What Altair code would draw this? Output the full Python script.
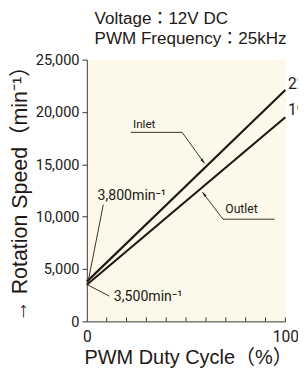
import altair as alt
import pandas as pd

# ---- data ----
duty = [0, 100]
inlet_speed = [3800, 22100]
outlet_speed = [3500, 19500]

y_tick_values = [0, 5000, 10000, 15000, 20000, 25000]
x_label_values = [0, 100]
x_minor_ticks = [10, 20, 30, 40, 50, 60, 70, 80, 90, 100]

# annotation leader lines (data coordinates)
inlet_leader_x = [22.1, 48.0, 59.3]
inlet_leader_y = [18055, 18055, 15090]
outlet_leader_x = [94.6, 68.6, 58.2]
outlet_leader_y = [9760, 9760, 12350]
start_in_leader_x = [8.3, 0.6]
start_in_leader_y = [11150, 3760]
start_out_leader_x = [0.6, 11.3]
start_out_leader_y = [3470, 2420]

FONT = "Liberation Sans, Noto Sans CJK JP, sans-serif"
COND = "Roboto, Liberation Sans, sans-serif"
INK = "#231815"
BG = "#FCF8EA"

lines_df = pd.DataFrame({
    "duty": duty * 2,
    "speed": inlet_speed + outlet_speed,
    "series": ["Inlet"] * 2 + ["Outlet"] * 2,
})

xs = alt.Scale(domain=[0, 100], nice=False, zero=False)
ys = alt.Scale(domain=[0, 25000], nice=False)

x_axis = alt.Axis(values=x_label_values, ticks=False, grid=False, labelFontSize=16,
                  labelFont=COND, labelColor=INK, labelPadding=8, domainColor="#333333",
                  labelFlush=False, format="d",
                  title="PWM Duty Cycle（%）", titleFont=FONT, titleFontSize=20.5,
                  titleFontWeight="normal", titleColor=INK, titleX=104, titleY=37,
                  titleAlign="center", titleBaseline="middle")
y_axis = alt.Axis(values=y_tick_values, format=",d", tickSize=5, tickColor="#333333",
                  domainColor="#333333", grid=False, labelFontSize=15, labelFont=COND,
                  labelColor=INK, labelPadding=3,
                  title="→   Rotation Speed（min⁻¹）", titleFont=FONT, titleFontSize=22,
                  titleFontWeight="normal", titleColor=INK, titleAngle=270,
                  titleX=-69, titleY=132, titleAlign="center", titleBaseline="middle")

base = alt.Chart(lines_df)
lines = base.mark_line(color=INK, strokeWidth=2.2).encode(
    x=alt.X("duty:Q", scale=xs, axis=x_axis),
    y=alt.Y("speed:Q", scale=ys, axis=y_axis),
    detail="series:N",
)

ticks_df = pd.DataFrame({"t": x_minor_ticks})
ticks = alt.Chart(ticks_df).mark_rule(color="#333333", strokeWidth=1).encode(
    x=alt.X("t:Q", scale=xs),
    y=alt.value(269), y2=alt.value(265),
)

def leader(xv, yv):
    df = pd.DataFrame({"x": xv, "y": yv, "o": list(range(len(xv)))})
    return alt.Chart(df).mark_line(color=INK, strokeWidth=0.9).encode(
        x=alt.X("x:Q", scale=xs), y=alt.Y("y:Q", scale=ys), order="o:Q")

leaders = [
    leader(inlet_leader_x, inlet_leader_y),
    leader(outlet_leader_x, outlet_leader_y),
    leader(start_in_leader_x, start_in_leader_y),
    leader(start_out_leader_x, start_out_leader_y),
]

arrow_df = pd.DataFrame({
    "x": [inlet_leader_x[-1], outlet_leader_x[-1]],
    "y": [inlet_leader_y[-1], outlet_leader_y[-1]],
    "ang": [144, 322],
})
arrows = alt.Chart(arrow_df).mark_point(
    shape="M0,0L-0.4,1.6L0.4,1.6Z", filled=True, color=INK, size=45, opacity=1
).encode(x=alt.X("x:Q", scale=xs), y=alt.Y("y:Q", scale=ys),
         angle=alt.Angle("ang:Q", scale=None))

def label(xv, yv, txt, size, align="left", font=COND):
    df = pd.DataFrame({"x": [xv], "y": [yv], "t": [txt]})
    return alt.Chart(df).mark_text(align=align, baseline="middle", fontSize=size,
                                   font=font, color=INK).encode(
        x=alt.X("x:Q", scale=xs), y=alt.Y("y:Q", scale=ys), text="t:N")

labels = [
    label(28.9, 18800, "Inlet", 12, "center"),
    label(77.9, 10690, "Outlet", 12.5, "center"),
    label(5.4, 11990, "3,800min⁻¹", 14.5, "left"),
    label(13.6, 2330, "3,500min⁻¹", 14.5, "left"),
    label(101.3, 22700, "22,100min⁻¹", 16, "left"),
    label(101.3, 20200, "19,500min⁻¹", 16, "left"),
]

chart = alt.layer(lines, ticks, *leaders, arrows, *labels).properties(
    width=204, height=269,
    autosize=alt.AutoSizeParams(type="none"),
    padding={"left": 81, "top": 48, "right": 13, "bottom": 49},
    title=alt.TitleParams(text=["Voltage：12V DC", "PWM Frequency：25kHz"],
                          anchor="start", dx=8, fontSize=17.5, fontWeight="normal",
                          font=FONT, color=INK, lineHeight=20, offset=2,
                          frame="group"),
).configure_view(fill=BG, strokeOpacity=0)

chart.save("out.html", embed_options={"renderer": "svg", "actions": False})
